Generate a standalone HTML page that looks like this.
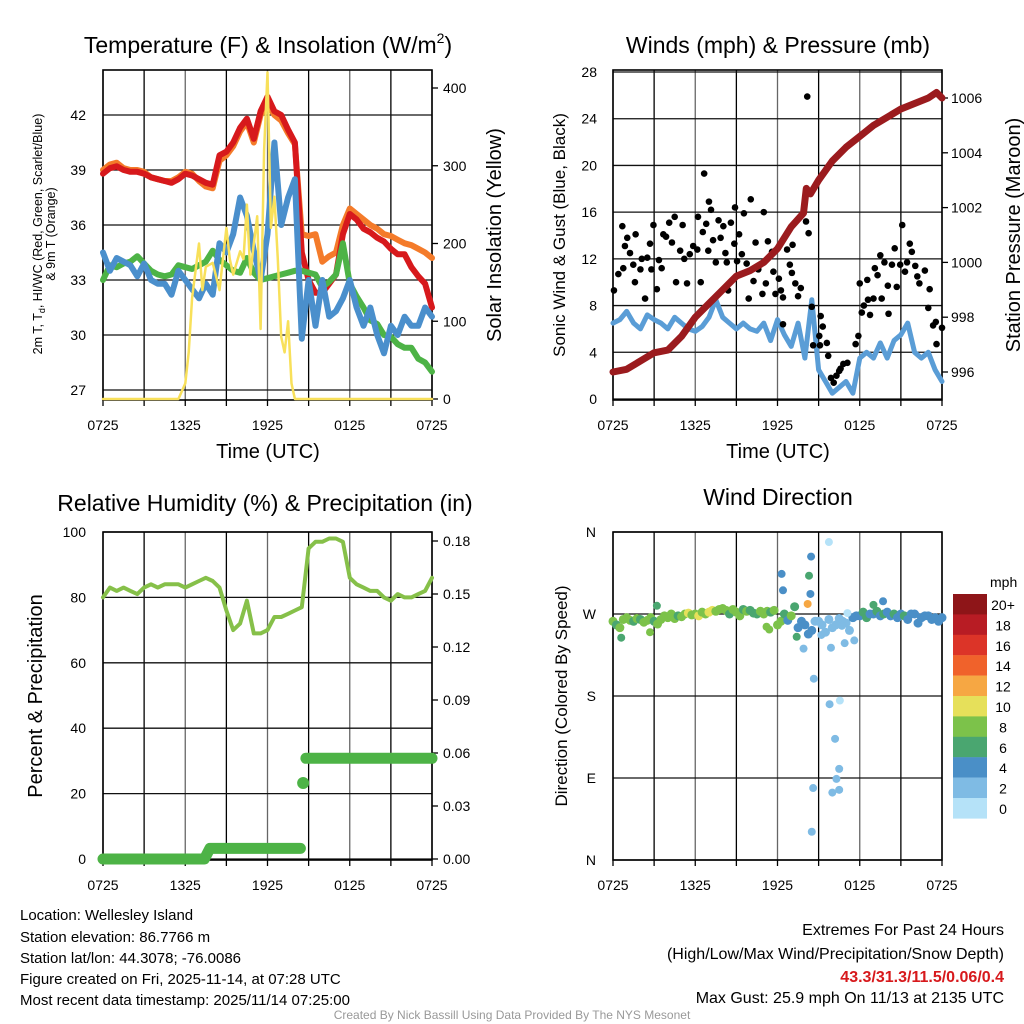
<!DOCTYPE html>
<html><head><meta charset="utf-8"><style>
body{margin:0;background:#fff;}
svg{display:block;font-family:"Liberation Sans",sans-serif;}
</style></head><body>
<svg id="s" width="1024" height="1024" viewBox="0 0 1024 1024" xmlns="http://www.w3.org/2000/svg">
<rect width="1024" height="1024" fill="#fff"/>
<text x="268" y="53" font-size="23" text-anchor="middle">Temperature (F) &amp; Insolation (W/m<tspan font-size="14" dy="-10">2</tspan><tspan dy="10">)</tspan></text>
<text x="778" y="53" font-size="23" text-anchor="middle">Winds (mph) &amp; Pressure (mb)</text>
<text x="265" y="511" font-size="23" text-anchor="middle">Relative Humidity (%) &amp; Precipitation (in)</text>
<text x="778" y="505" font-size="23" text-anchor="middle">Wind Direction</text>
<text x="268" y="458" font-size="20" text-anchor="middle">Time (UTC)</text>
<text x="778" y="458" font-size="20" text-anchor="middle">Time (UTC)</text>
<text transform="translate(42,234) rotate(-90)" font-size="12.5" text-anchor="middle">2m T, T<tspan font-size="9" dy="3">d</tspan><tspan dy="-3">, HI/WC (Red, Green, Scarlet/Blue)</tspan></text>
<text transform="translate(55,234) rotate(-90)" font-size="12.5" text-anchor="middle">&amp; 9m T (Orange)</text>
<text transform="translate(501,235) rotate(-90)" font-size="20" text-anchor="middle">Solar Insolation (Yellow)</text>
<text transform="translate(565,235) rotate(-90)" font-size="17" text-anchor="middle">Sonic Wind &amp; Gust (Blue, Black)</text>
<text transform="translate(1020,235) rotate(-90)" font-size="20" text-anchor="middle">Station Pressure (Maroon)</text>
<text transform="translate(42,696) rotate(-90)" font-size="20" text-anchor="middle">Percent &amp; Precipitation</text>
<text transform="translate(567,696) rotate(-90)" font-size="17" text-anchor="middle">Direction (Colored By Speed)</text>
<g font-size="15">
<text x="20" y="920">Location: Wellesley Island</text>
<text x="20" y="942">Station elevation: 86.7766 m</text>
<text x="20" y="963">Station lat/lon: 44.3078; -76.0086</text>
<text x="20" y="984">Figure created on Fri, 2025-11-14, at 07:28 UTC</text>
<text x="20" y="1005">Most recent data timestamp: 2025/11/14 07:25:00</text>
</g>
<g font-size="16" text-anchor="end">
<text x="1004" y="935">Extremes For Past 24 Hours</text>
<text x="1004" y="959">(High/Low/Max Wind/Precipitation/Snow Depth)</text>
<text x="1004" y="982" fill="#d7191c" font-weight="bold">43.3/31.3/11.5/0.06/0.4</text>
<text x="1004" y="1003">Max Gust: 25.9 mph On 11/13 at 2135 UTC</text>
</g>
<text x="512" y="1019" font-size="12" fill="#999" text-anchor="middle">Created By Nick Bassill Using Data Provided By The NYS Mesonet</text>
<g id="g"></g>
</svg>
<script>
// ---- data ----
const hours = [];
for (let i = 0; i <= 48; i++) hours.push(i * 0.5);
const xTickLabels = ["0725","1325","1925","0125","0725"];
const tempRed = [38.8,39.1,39.2,39.0,38.9,38.9,38.8,38.6,38.5,38.4,38.3,38.5,38.8,38.7,38.5,38.3,38.2,39.8,40.0,40.5,41.3,41.8,40.7,42.2,43.0,42.2,42.0,41.2,40.5,34.5,33.0,32.3,32.3,32.8,33.3,35.5,36.6,36.3,35.8,35.6,35.3,35.1,34.7,34.4,34.4,33.7,33.2,32.8,31.5];
const tempOrange = [39.0,39.3,39.4,39.1,39.0,39.0,38.9,38.6,38.5,38.4,38.4,38.6,38.9,38.8,38.4,38.1,38.0,39.5,39.8,40.3,41.1,41.6,40.5,42.0,42.6,42.0,41.7,41.0,40.4,35.5,35.4,35.5,34.0,34.3,34.5,36.0,36.9,36.6,36.3,36.0,35.8,35.5,35.4,35.2,35.0,34.9,34.7,34.5,34.2];
const dewGreen = [33.0,33.8,33.7,33.9,34.0,34.3,33.9,33.5,33.3,33.2,33.3,33.8,33.7,33.6,33.8,34.0,34.6,34.1,33.8,33.5,33.4,34.2,33.4,33.0,33.1,33.2,33.3,33.4,33.5,33.5,33.4,33.3,32.6,32.9,33.3,35.0,32.8,32.1,31.5,30.8,30.6,30.0,29.9,29.5,29.3,29.3,28.7,28.5,28.0];
const chillBlue = [34.5,33.5,34.2,34.0,33.8,33.2,33.9,33.0,32.8,32.8,32.2,33.5,33.0,32.5,32.0,32.8,32.2,35.0,34.5,35.5,37.5,36.5,34.6,33.0,35.5,40.5,36.0,37.5,38.5,29.8,33.0,30.5,33.0,31.0,31.3,32.0,33.0,31.5,30.5,31.5,30.0,29.0,30.5,30.0,31.0,30.5,30.5,31.5,31.0];
const solarHours = [0,5.5,6,6.25,6.5,7,7.25,7.5,8,8.5,9,9.25,9.5,10,10.25,10.5,10.75,11,11.25,11.5,11.75,12,12.25,12.5,12.75,13,13.25,13.5,13.75,14,24];
const solarValues = [0,0,20,60,130,200,140,170,175,140,220,180,160,190,180,250,160,200,235,90,320,420,220,260,180,80,60,100,20,0,0];
const tempTicks = [27,30,33,36,39,42];
const solarTicks = [0,100,200,300,400];

const windSonic = [6.5,6.8,7.5,6.5,6.0,7.2,6.8,6.5,6.0,7.0,6.5,6.0,5.8,6.2,7.0,8.5,7.0,6.5,6.0,6.5,6.0,5.8,6.5,5.0,6.8,5.5,4.5,6.5,3.5,8.5,2.5,1.5,0.5,1.0,1.5,0.5,3.5,4.0,3.5,4.8,3.5,5.0,5.5,6.5,4.0,3.5,4.0,2.5,1.5];
const gustHours = [0.07,0.68,0.87,0.39,0.75,1.04,1.24,1.48,1.65,1.6,2.0,2.1,2.34,2.5,2.7,2.8,2.95,3.2,3.35,3.55,3.67,3.87,4.1,4.3,4.5,4.6,4.9,5.08,5.2,5.4,5.6,5.85,6.15,6.2,6.4,6.55,6.65,6.8,6.95,7.0,7.15,7.3,7.5,7.7,7.85,8.05,8.2,8.3,8.4,8.6,8.85,8.9,9.05,9.2,9.4,9.55,9.75,9.9,10.05,10.25,10.4,10.6,10.9,11.0,11.15,11.3,11.6,11.7,11.85,12.1,12.25,12.4,12.4,12.7,12.9,13.1,13.05,13.3,13.5,13.7,14.08,14.27,14.17,14.5,14.6,15.15,15.3,15.05,15.6,15.7,15.1,16.1,16.3,16.5,16.8,17.1,17.7,17.9,18.0,18.15,18.3,18.55,18.6,18.75,19.0,19.1,19.3,19.5,19.6,19.8,20.05,20.1,20.35,20.55,20.7,20.95,21.1,21.3,21.45,21.65,21.8,22.05,22.2,22.35,22.75,23.0,23.1,23.35,23.55,23.6,24.0,15.9,16.6];
const gustValues = [9.3,14.8,13.1,10.7,11.2,13.8,12.5,11.5,14.1,10.0,11.1,12.0,8.6,12.1,13.3,11.1,14.9,9.4,11.9,11.2,14.1,13.9,15.1,13.4,15.6,10.0,12.7,14.9,12.0,9.9,12.4,13.1,12.8,15.6,10.0,14.3,19.3,15.0,12.7,16.9,16.2,13.6,11.7,15.3,13.8,14.8,12.5,11.7,9.3,15.1,13.3,16.4,11.8,14.1,12.4,15.9,11.6,8.6,17.1,10.1,13.4,11.1,9.0,16.0,9.9,13.5,12.6,10.9,9.0,10.3,9.3,8.7,6.4,12.8,11.5,13.2,10.8,9.9,8.8,9.5,15.2,14.2,25.9,7.9,4.6,7.1,6.2,5.4,4.8,3.7,4.6,1.4,2.0,2.4,3.0,3.1,4.7,5.4,9.9,7.4,8.0,10.2,8.5,7.2,8.6,11.2,10.6,12.3,8.6,11.7,9.7,7.3,11.5,12.9,9.6,11.5,14.9,10.9,11.7,13.3,12.6,11.4,10.5,9.9,11.0,7.8,9.4,6.3,6.6,4.7,6.1,1.8,2.6];
const pressHours = [0,1,2,3,4,5,6,7,8,9,10,11,12,13,13.9,14.1,14.4,15,16,17,18,19,20,21,22,23,23.6,24];
const pressValues = [996.0,996.1,996.4,996.7,996.8,997.3,998.0,998.5,999.0,999.5,999.7,1000.0,1000.5,1001.3,1001.8,1002.7,1002.5,1003.0,1003.7,1004.2,1004.6,1005.0,1005.3,1005.6,1005.8,1006.0,1006.2,1006.0];
const windTicks = [0,4,8,12,16,20,24,28];
const pressTicks = [996,998,1000,1002,1004,1006];

const rhValues = [80,83,82,83,82,81,83,84,83,84,84,84,83,84,85,86,85,83,76,70,72,79,69,69,70,74,74,75,76,77,95,97,97,98,98,97,86,84,83,82,82,80,79,81,80,80,81,82,86];
const precipHoursA = [0,7.4,7.8,14.4];
const precipValuesA = [0,0,0.006,0.006];
const precipHoursB = [14.6];
const precipValuesB = [0.043];
const precipHoursC = [14.8,24];
const precipValuesC = [0.057,0.057];
const rhTicks = [0,20,40,60,80,100];
const precipTicks = [0,0.03,0.06,0.09,0.12,0.15,0.18];

const bandHours = [];
for (let i = 0; i <= 96; i++) bandHours.push(i * 0.25);
const bandDirs = [262,258,255,264,266,263,262,265,264,261,263,266,262,259,264,268,266,270,265,268,267,270,271,269,270,268,272,270,272,274,273,275,276,274,270,275,272,268,275,273,274,271,270,273,270,273,272,274,258,262,270,263,268,278,255,262,258,248,252,262,262,258,250,264,255,258,265,262,260,252,266,268,268,272,266,270,270,273,268,270,272,268,270,266,270,268,264,270,270,260,266,268,268,264,266,262,266];
const bandSpeeds = [7,6,8,7,8,7,6,7,6,7,8,7,6,7,7,8,7,8,7,6,8,7,9,8,8,9,8,7,10,9,8,7,8,7,6,7,8,7,6,7,6,5,6,7,7,8,6,7,8,7,6,4,7,6,4,4,3,4,3,2,2,2,1,2,2,1,2,2,2,2,3,4,4,5,6,4,4,5,4,6,4,4,5,4,4,6,4,4,4,4,3,4,4,3,4,4,4];
const outHours = [14.45,15.75,12.3,14.3,12.4,14.4,14.2,14.65,15.8,16.55,16.2,16.5,16.3,16.0,16.5,14.6,14.5,15.9,13.9,19.7,17.1,16.7,16.9,17.6,11.2,11.4,13.4,3.2,0.6,2.7,19.0,15.2,14.7];
const outDirs = [333,349,314,312,296,292,281,199,171,175,133,100,89,74,77,79,31,233,232,284,271,257,238,241,256,253,245,279,244,250,280,247,262];
const outSpeeds = [4,0.5,4,6,4,4,12,1,1,0.5,1,1,1,1,1,2,2,1,2,4,0.5,1,2,2,8,8,6,6,6,8,6,2,2];
const dirTicks = ["N","E","S","W","N"];
const speedLabels = ["20+","18","16","14","12","10","8","6","4","2","0"];
const speedColors = ["#8e1518","#b81c24","#dc3428","#f0622b","#f6a743","#e6e05a","#7cc24a","#4aa670","#4a8fc7","#7fbbe4","#b5e2f8"];

// ---- helpers ----
const NS = "http://www.w3.org/2000/svg";
const G = document.getElementById("g");
function el(tag, attrs, parent) {
  const e = document.createElementNS(NS, tag);
  for (const k in attrs) e.setAttribute(k, attrs[k]);
  (parent || G).appendChild(e);
  return e;
}
function lin(d0, d1, p0, p1) { return v => p0 + (v - d0) * (p1 - p0) / (d1 - d0); }
function speedColor(s) {
  let idx = Math.round(s / 2);
  if (idx > 10) idx = 10;
  if (idx < 0) idx = 0;
  return speedColors[10 - idx];
}
function poly(xs, ys, xS, yS, color, w, name) {
  const pts = xs.map((t, i) => xS(t).toFixed(1) + "," + yS(ys[i]).toFixed(1)).join(" ");
  const p = el("polyline", {points: pts, fill: "none", stroke: color, "stroke-width": w, "stroke-linejoin": "round", "stroke-linecap": "round"});
  
  
  return p;
}
function frame(x0, x1, top, bot, hLines, name) {
  const g = el("g", {});
  
  
  for (let i = 0; i <= 8; i++) {
    const x = x0 + (x1 - x0) * i / 8;
    el("line", {x1: x, x2: x, y1: top, y2: bot, stroke: i % 2 ? "#000" : "#666", "stroke-width": 1.3}, g);
    el("line", {x1: x, x2: x, y1: bot, y2: bot + 6, stroke: "#000", "stroke-width": 1.3}, g);
  }
  hLines.forEach(y => el("line", {x1: x0, x2: x1, y1: y, y2: y, stroke: "#111", "stroke-width": 1.3}, g));
  el("rect", {x: x0, y: top, width: x1 - x0, height: bot - top, fill: "none", stroke: "#000", "stroke-width": 1.6}, g);
  xTickLabels.forEach((lab, i) => {
    const t = el("text", {x: x0 + (x1 - x0) * i / 4, y: bot + 30, "font-size": 14, "text-anchor": "middle"}, g);
    t.textContent = lab;
    
    
  });
  return g;
}
function yLabels(vals, yS, x, anchor, fmt, name, tick) {
  vals.forEach(v => {
    const t = el("text", {x: x, y: yS(v) + 5, "font-size": 14, "text-anchor": anchor});
    t.textContent = fmt(v);
    
    
    if (tick) el("line", {x1: tick[0], x2: tick[1], y1: yS(v), y2: yS(v), stroke: "#000", "stroke-width": 1.3});
  });
}

// ---- panel 1 ----
{
  const xS = lin(0, 24, 103, 432), yT = lin(27, 42, 390, 115), yI = lin(0, 400, 399, 88);
  frame(103, 432, 70, 400, tempTicks.map(yT), "temperature-plot");
  yLabels(tempTicks, yT, 86, "end", v => v, "temp-tick-label");
  yLabels(solarTicks, yI, 443, "start", v => v, "solar-tick-label", [432, 438]);
  poly(hours, tempOrange, xS, yT, "#f47b2a", 6, "orange-9m-temp-line");
  poly(hours, tempRed, xS, yT, "#d7191c", 6, "red-2m-temp-line");
  poly(hours, dewGreen, xS, yT, "#4db346", 6, "green-dewpoint-line");
  poly(hours, chillBlue, xS, yT, "#4a8fcc", 6, "blue-windchill-line");
  poly(solarHours, solarValues, xS, yI, "#f8e05a", 2.5, "yellow-insolation-line");
}
// ---- panel 2 ----
{
  const xS = lin(0, 24, 613, 942), yW = lin(0, 28, 399, 72), yP = lin(996, 1006, 372, 98);
  frame(613, 942, 70, 400, windTicks.map(yW), "winds-plot");
  yLabels(windTicks, yW, 597, "end", v => v, "wind-tick-label");
  yLabels(pressTicks, yP, 951, "start", v => v, "pressure-tick-label", [942, 948]);
  poly(hours, windSonic, xS, yW, "#5a9dd6", 5, "sonic-wind-line");
  gustHours.forEach((t, i) => {
    const c = el("circle", {cx: xS(t), cy: yW(gustValues[i]), r: 3.3, fill: "#000"});
    
    
  });
  poly(pressHours, pressValues, xS, yP, "#9b1b1e", 7, "pressure-line");
}
// ---- panel 3 ----
{
  const xS = lin(0, 24, 103, 432), yR = lin(0, 100, 859, 532), yQ = lin(0, 0.18, 859, 541);
  frame(103, 432, 532, 860, rhTicks.map(yR), "humidity-plot");
  yLabels(rhTicks, yR, 86, "end", v => v, "rh-tick-label");
  yLabels(precipTicks, yQ, 443, "start", v => v.toFixed(2), "precip-tick-label", [432, 438]);
  poly(hours, rhValues, xS, yR, "#86c049", 4, "relative-humidity-line");
  poly(precipHoursA, precipValuesA, xS, yQ, "#4db346", 11, "precip-line-early");
  precipHoursB.forEach((t, i) => {
    const c = el("circle", {cx: xS(t), cy: yQ(precipValuesB[i]), r: 6, fill: "#4db346"});
    
    
  });
  poly(precipHoursC, precipValuesC, xS, yQ, "#4db346", 11, "precip-line-late");
}
// ---- panel 4 ----
{
  const xS = lin(0, 24, 613, 942), yD = lin(0, 360, 860, 532);
  frame(613, 942, 532, 860, [0, 90, 180, 270, 360].map(yD), "wind-direction-plot");
  dirTicks.forEach((lab, i) => {
    const t = el("text", {x: 596, y: yD(i * 90) + 5, "font-size": 14, "text-anchor": "end"});
    t.textContent = lab;
    
    
  });
  bandHours.forEach((t, i) => {
    const c = el("circle", {cx: xS(t), cy: yD(bandDirs[i]), r: 4.5, fill: speedColor(bandSpeeds[i])});
    
    
  });
  outHours.forEach((t, i) => {
    const c = el("circle", {cx: xS(t), cy: yD(outDirs[i]), r: 4, fill: speedColor(outSpeeds[i])});
    
    
  });
  const lg = el("g", {});
  
  
  const t0 = el("text", {x: 990, y: 587, "font-size": 14}, lg);
  t0.textContent = "mph";
  speedColors.forEach((c, i) => {
    el("rect", {x: 953, y: 594 + i * 20.4, width: 34, height: 20.6, fill: c}, lg);
    const tl = el("text", {x: 1003, y: 610 + i * 20.4, "font-size": 14, "text-anchor": "middle"}, lg);
    tl.textContent = speedLabels[i];
    
    
  });
}
</script>
</body></html>
